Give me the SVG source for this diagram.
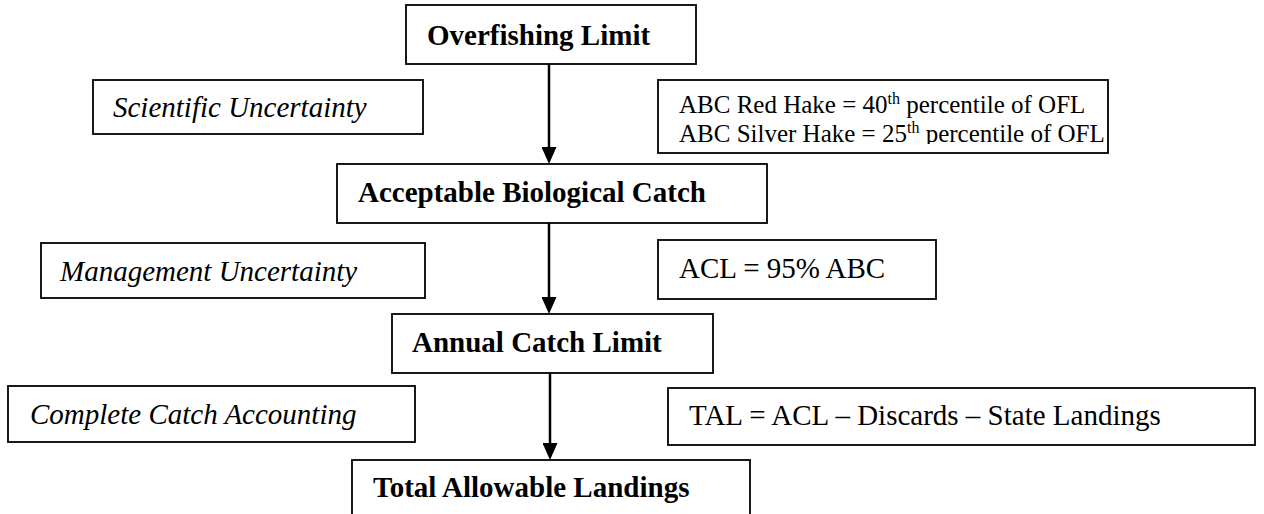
<svg xmlns="http://www.w3.org/2000/svg" width="1264" height="514" viewBox="0 0 1264 514">
<defs>
<marker id="ah" viewBox="0 0 17 15" refX="7" refY="7.5" markerWidth="17" markerHeight="15" markerUnits="userSpaceOnUse" orient="auto">
<path d="M0,0 L17,7.5 L0,15 Z" fill="#000"/>
</marker>
<clipPath id="abcclip"><rect x="658" y="80" width="460" height="64"/></clipPath>
</defs>
<style>
.box{fill:#fff;stroke:#000;stroke-width:1.8}
.b{font-family:"Liberation Serif","Times New Roman",serif;font-weight:bold;font-size:29px;fill:#000}
.i{font-family:"Liberation Serif","Times New Roman",serif;font-style:italic;font-size:29px;fill:#000}
.r{font-family:"Liberation Serif","Times New Roman",serif;font-size:25px;fill:#000}
.r2{font-family:"Liberation Serif","Times New Roman",serif;font-size:29px;fill:#000}
.sup{font-size:16px}
.conn{stroke:#000;stroke-width:2.5;fill:none}
</style>
<rect width="1264" height="514" fill="#fff"/>
<g id="connectors">
<line class="conn" x1="549" y1="64" x2="549" y2="154" marker-end="url(#ah)"/>
<line class="conn" x1="549" y1="223" x2="549" y2="304" marker-end="url(#ah)"/>
<line class="conn" x1="550" y1="373" x2="550" y2="450" marker-end="url(#ah)"/>
</g>
<g id="ofl">
<rect class="box" x="406" y="5" width="290" height="59"/>
<text class="b" x="427" y="45">Overfishing Limit</text>
</g>
<g id="sci">
<rect class="box" x="93" y="80" width="330" height="54"/>
<text class="i" x="113" y="117">Scientific Uncertainty</text>
</g>
<g id="abcdef">
<rect class="box" x="658" y="80" width="450" height="73"/>
<g clip-path="url(#abcclip)">
<text class="r" x="679" y="113">ABC Red Hake = 40<tspan class="sup" dy="-9">th</tspan><tspan dy="9"> percentile of OFL</tspan></text>
<text class="r" x="679" y="142">ABC Silver Hake = 25<tspan class="sup" dy="-9">th</tspan><tspan dy="9"> percentile of OFL</tspan></text>
</g>
</g>
<g id="abc">
<rect class="box" x="337" y="164" width="430" height="59"/>
<text class="b" x="358" y="202">Acceptable Biological Catch</text>
</g>
<g id="mgmt">
<rect class="box" x="41" y="243" width="384" height="55"/>
<text class="i" x="60" y="281">Management Uncertainty</text>
</g>
<g id="acldef">
<rect class="box" x="658" y="240" width="278" height="59"/>
<text class="r2" x="679" y="278">ACL = 95% ABC</text>
</g>
<g id="acl">
<rect class="box" x="392" y="314" width="321" height="59"/>
<text class="b" x="412" y="352">Annual Catch Limit</text>
</g>
<g id="cca">
<rect class="box" x="8" y="386" width="407" height="56"/>
<text class="i" x="30" y="424">Complete Catch Accounting</text>
</g>
<g id="taldef">
<rect class="box" x="668" y="388" width="587" height="57"/>
<text class="r2" x="689" y="425">TAL = ACL – Discards – State Landings</text>
</g>
<g id="tal">
<rect class="box" x="352" y="460" width="398" height="70"/>
<text class="b" x="373" y="497">Total Allowable Landings</text>
</g>
</svg>
